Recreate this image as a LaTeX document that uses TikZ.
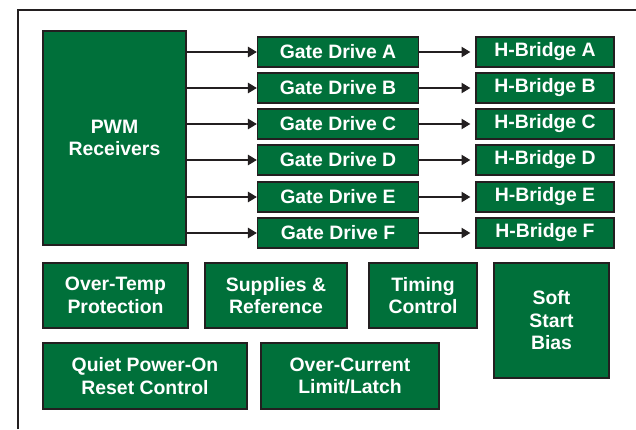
\documentclass[tikz,border=0pt]{standalone}
\usepackage{fontspec}
\setmainfont{Liberation Sans}
\usetikzlibrary{arrows.meta}
\definecolor{blkgreen}{RGB}{0,112,58}
\definecolor{edgegray}{RGB}{35,31,32}
\tikzset{
	blk/.style={draw=edgegray, line width=1pt, fill=blkgreen, text=white, align=center,
		inner sep=0pt, font=\bfseries\fontsize{13.8}{16}\selectfont},
	sig/.style={draw=edgegray, line width=0.8pt, -{Triangle[length=2.2mm, width=2.6mm]}}
}

\begin{document}
\begin{tikzpicture}[x=0.025cm, y=-0.025cm]
	\useasboundingbox (0, 0) rectangle (636, 429);
	% Frame:
	\draw[edgegray, line width=0.9pt] (18, 429) -- (18, 10) -- (636, 10);
	% Receiver and the six drive channels:
	\node[blk, minimum width=143*0.025cm, minimum height=214*0.025cm] (pwm) at (114.5, 138){PWM\\Receivers};
	\foreach \l/\y in {A/52, B/88, C/124, D/160, E/197, F/233}{
		\node[blk, minimum width=161*0.025cm, minimum height=30*0.025cm] (gd\l) at (338, \y){Gate Drive \l};
		\node[blk, minimum width=138*0.025cm, minimum height=30*0.025cm] (hb\l) at (545, \y){H-Bridge \l};
		\draw[sig] (pwm.east |- gd\l.west) -- (gd\l.west);
		\draw[sig, shorten >=5*0.025cm] (gd\l.east) -- (hb\l.west);
	}
	% Support blocks:
	\node[blk, minimum width=145*0.025cm, minimum height=65*0.025cm] (otp) at (115.5, 295.5){Over-Temp\\Protection};
	\node[blk, minimum width=142*0.025cm, minimum height=65*0.025cm] (sup) at (276, 295.5){Supplies \&\\Reference};
	\node[blk, minimum width=108*0.025cm, minimum height=65*0.025cm] (tim) at (423, 295.5){Timing\\Control};
	\node[blk, minimum width=115*0.025cm, minimum height=115*0.025cm] (ssb) at (551.5, 320.5){Soft\\Start\\Bias};
	\node[blk, minimum width=204*0.025cm, minimum height=66*0.025cm] (qpor) at (145, 376){Quiet Power-On\\Reset Control};
	\node[blk, minimum width=178*0.025cm, minimum height=66*0.025cm] (ocl) at (350, 376){Over-Current\\Limit/Latch};
\end{tikzpicture}
\end{document}
